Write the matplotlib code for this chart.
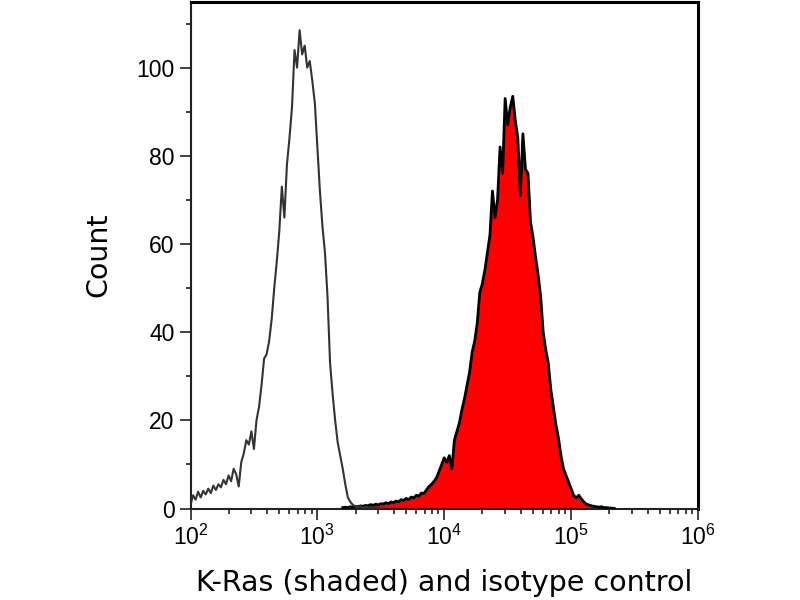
import numpy as np
import matplotlib
matplotlib.use("Agg")
import matplotlib.pyplot as plt
from matplotlib.ticker import LogLocator, MultipleLocator, LogFormatterSciNotation

# ---- data (log10 fluorescence bin positions and counts) ----
iso_log_start = 2.00
iso_step = 0.02
iso_counts = [
    0.8, 3.0, 2.0, 3.8, 2.5, 4.0, 3.2, 4.5, 3.5, 5.2,
    4.2, 5.5, 4.8, 6.5, 5.5, 7.5, 6.2, 9.0, 7.8, 5.0,
    10.5, 12.5, 15.5, 14.5, 17.5, 13.5, 20.0, 23.0, 28.0, 34.0,
    35.0, 38.0, 43.0, 50.0, 56.0, 63.0, 73.0, 66.0, 78.0, 84.0,
    91.0, 104.0, 100.0, 108.5, 103.0, 105.0, 100.0, 101.5, 97.0, 92.0,
    82.0, 72.0, 64.0, 58.0, 48.0, 33.0, 26.0, 20.0, 15.0, 12.0,
    9.0, 5.5, 2.5, 1.5, 0.8, 0.5, 0.3, 0.5, 0.2, 0.4,
    0.2, 0.3, 0.1, 0.3, 0.2, 0.0,
]

kras_log_start = 3.20
kras_step = 0.02
kras_counts = [
    0.2, 0.3, 0.2, 0.4, 0.3, 0.5, 0.4, 0.6, 0.5, 0.7,
    0.6, 0.9, 0.7, 1.0, 0.8, 1.1, 1.0, 1.3, 1.1, 1.5,
    1.3, 1.7, 1.5, 2.0, 1.8, 2.3, 2.0, 2.6, 2.4, 3.0,
    2.8, 3.5, 3.4, 4.2, 5.0, 5.5, 6.2, 7.0, 8.5, 10.0,
    11.5, 10.5, 12.0, 9.0, 15.5, 17.5, 19.5, 22.5, 25.0, 28.0,
    31.0, 35.5, 38.0, 42.0, 49.0, 51.0, 54.0, 58.0, 62.0, 72.0,
    66.0, 70.0, 82.0, 76.0, 93.0, 87.0, 91.0, 93.5, 88.0, 84.0,
    71.0, 85.0, 77.0, 76.0, 65.0, 61.5, 57.0, 53.0, 48.0, 40.0,
    36.0, 33.0, 27.0, 23.0, 19.0, 16.0, 12.0, 9.0, 7.5, 6.0,
    4.5, 3.0, 2.4, 3.0, 2.2, 1.5, 1.0, 0.8, 0.6, 0.5,
    0.4, 0.3, 0.4, 0.2, 0.2, 0.1, 0.1, 0.0,
]

x_label = "K-Ras (shaded) and isotype control"
y_label = "Count"

iso_x = 10 ** (iso_log_start + iso_step * np.arange(len(iso_counts)))
kras_x = 10 ** (kras_log_start + kras_step * np.arange(len(kras_counts)))

plt.rcParams['mathtext.default'] = 'regular'

fig = plt.figure(figsize=(8, 6), dpi=100)
ax = fig.add_axes([190.5 / 800, 1 - 508.5 / 600, 507.5 / 800, 507 / 600])

ax.fill_between(kras_x, 0, kras_counts, color='#ff0000', linewidth=0, zorder=2)
ax.plot(kras_x, kras_counts, color='black', linewidth=2.0, zorder=3)
ax.plot(iso_x, iso_counts, color='#333333', linewidth=1.5, zorder=4)

ax.set_xscale('log')
ax.set_xlim(1e2, 1e6)
ax.set_ylim(0, 115)

ax.xaxis.set_major_locator(LogLocator(base=10, numticks=10))
ax.xaxis.set_minor_locator(LogLocator(base=10, subs=np.arange(2, 10), numticks=20))
ax.xaxis.set_major_formatter(LogFormatterSciNotation())
ax.yaxis.set_major_locator(MultipleLocator(20))
ax.yaxis.set_minor_locator(MultipleLocator(10))

for side in ['left', 'bottom']:
    ax.spines[side].set_linewidth(1.5)
    ax.spines[side].set_color('#222222')
for side in ['top', 'right']:
    ax.spines[side].set_linewidth(2.2)
    ax.spines[side].set_color('black')

ax.tick_params(which='major', direction='out', length=8, width=1.2, color='#222222',
               labelsize=16.5, pad=3.5)
ax.tick_params(which='minor', direction='out', length=3.3, width=1.2, color='#222222')
for lab in ax.get_xticklabels() + ax.get_yticklabels():
    lab.set_fontfamily('Liberation Sans')

ax.set_xlabel(x_label, fontsize=20.5, family='DejaVu Sans', labelpad=14)
ax.set_ylabel(y_label, fontsize=20.5, family='DejaVu Sans', labelpad=17)

fig.savefig('out.png', dpi=100)
